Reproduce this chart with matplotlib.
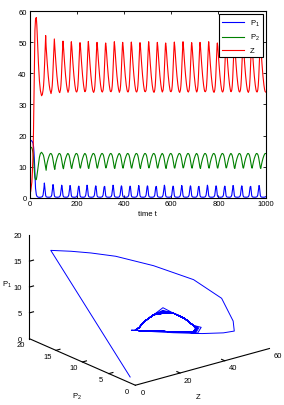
import numpy as np
import matplotlib
matplotlib.use('Agg')
import matplotlib.pyplot as plt

plt.rcParams['font.family'] = ['Liberation Sans', 'DejaVu Sans']
plt.rcParams['mathtext.fontset'] = 'custom'
plt.rcParams['mathtext.rm'] = 'Liberation Sans'
plt.rcParams['mathtext.it'] = 'Liberation Sans'

# ---- transient part (t = 0 .. 51) ----
t_tr = [0, 1.5, 5, 10, 12, 15, 17, 19, 21, 23, 25.5, 28.8, 31, 34, 38, 42, 46, 51]
z_tr = [0.5, 1.0, 2.0, 5.0, 8.0, 14.0, 22.0, 33.0, 45.0, 54.0, 57.5, 58.0, 55.5, 50.0, 43.0, 37.6, 34.5, 32.8]
p1_tr = [1.0, 18.6, 18.5, 18.2, 18.0, 17.5, 16.5, 14.5, 11.5, 7.5, 3.0, 1.0, 0.5, 0.25, 0.12, 0.1, 0.12, 0.2]
p2_tr = [1.2, 16.4, 16.3, 16.0, 15.5, 14.3, 13.0, 10.5, 8.0, 6.5, 5.8, 5.8, 6.8, 8.5, 11.0, 13.0, 14.2, 14.6]

# ---- one oscillation, offsets relative to the Z peak ----
cyc_off = [-14, -11, -9, -7, -5.5, -4, -2.5, -1, 0, 2, 4, 7, 11, 15, 18, 20]
cyc_z = [34.0, 34.6, 36.0, 38.5, 41.0, 44.0, 47.0, 49.3, 50.0, 48.6, 46.3, 43.0, 39.2, 36.3, 34.8, 34.2]
cyc_p1 = [0.3, 0.8, 2.0, 3.3, 3.8, 3.6, 2.6, 1.3, 0.7, 0.3, 0.2, 0.15, 0.12, 0.12, 0.15, 0.2]
cyc_p2 = [14.2, 13.9, 13.5, 12.8, 12.1, 11.3, 10.5, 9.9, 9.6, 9.5, 10.3, 11.4, 12.6, 13.5, 14.0, 14.2]

# per-cycle readings: Z peak times, Z peaks/troughs, P1 peaks, P2 troughs
peak_t = [68.4, 105.1, 141.8, 177.1, 213.8, 249.1, 285.8, 322.5, 359.2, 394.5, 431.1, 467.8, 504.5,
          541.2, 576.5, 613.2, 649.9, 686.6, 721.9, 758.6, 795.3, 832.0, 867.3, 904.0, 940.7, 977.3, 1013.7]
z_peak = [52.2, 51.1, 50.4, 50.2, 49.9, 50.3, 50.0, 49.8, 50.2, 50.0, 50.1, 49.9, 50.2, 50.0,
          49.8, 50.1, 50.2, 49.9, 50.0, 50.2, 49.8, 50.1, 50.0, 50.2, 49.9, 50.1, 50.0]
z_trough = [33.2, 33.5, 33.8, 33.9, 34.0, 34.1, 33.9, 34.0, 34.1, 33.9, 34.0, 34.0, 34.1, 33.9,
            34.0, 34.1, 33.9, 34.0, 34.0, 34.1, 33.9, 34.0, 34.1, 34.0, 33.9, 34.0, 34.0]
p1_peak = [4.7, 4.2, 4.0, 3.9, 3.7, 4.0, 3.8, 3.6, 4.0, 3.8, 3.7, 3.9, 3.8, 3.6,
           4.0, 3.7, 3.9, 3.8, 3.6, 4.0, 3.8, 3.7, 3.9, 3.8, 3.6, 3.9, 3.8]
p2_trough = [8.8, 9.1, 9.3, 9.4, 9.5, 9.4, 9.5, 9.6, 9.4, 9.5, 9.5, 9.4, 9.6, 9.5,
             9.4, 9.5, 9.6, 9.5, 9.4, 9.5, 9.5, 9.6, 9.4, 9.5, 9.5, 9.4, 9.5]

t = list(t_tr)
Z = list(z_tr)
P1 = list(p1_tr)
P2 = list(p2_tr)
for k, tp in enumerate(peak_t):
    for j, off in enumerate(cyc_off):
        t.append(tp + off)
        z = cyc_z[j]
        if off == 0:
            z = z_peak[k]
        if off == -14:
            z = z_trough[k]
        p1 = p1_peak[k] if off == -5.5 else cyc_p1[j]
        p2 = p2_trough[k] if off == 2 else cyc_p2[j]
        Z.append(z)
        P1.append(p1)
        P2.append(p2)

t = np.array(t)
keep = t <= 1000
t, Z, P1, P2 = t[keep], np.array(Z)[keep], np.array(P1)[keep], np.array(P2)[keep]

fs = 5.5
fig = plt.figure(figsize=(2.84, 4.06), dpi=100)

# bottom: phase portrait (drawn first, transparent, so it never hides the top axis)
ax3 = fig.add_axes([-0.083, -0.0476, 1.194, 0.635], projection='3d', proj_type='ortho')
ax3.patch.set_alpha(0)
ax3.view_init(elev=20.3, azim=-128.3)
ax3.set_box_aspect((1, 1, 0.645))
ax3.set_xlim(0, 60)
ax3.set_ylim(0, 20)
ax3.set_zlim(0, 20)
ax3.set_axis_off()

ax3.plot(Z, P2, P1, color='b', lw=0.7)

# axis lines and ticks
ax3.plot([0, 60], [0, 0], [0, 0], color='k', lw=0.8)
ax3.plot([0, 0], [0, 20], [0, 0], color='k', lw=0.8)
ax3.plot([0, 0], [20, 20], [0, 20], color='k', lw=0.8)
for v in [20, 40]:
    ax3.plot([v, v], [0, 0.6], [0, 0], color='k', lw=0.8)
for v in [5, 10, 15]:
    ax3.plot([0, 1.8], [v, v], [0, 0], color='k', lw=0.8)
    ax3.plot([0, 1.8], [20, 20], [v, v], color='k', lw=0.8)

for v in [0, 20, 40, 60]:
    ax3.text(v, -1.5, -0.7, str(v), fontsize=fs, ha='center', va='center')
for v in [0, 5, 10, 15, 20]:
    ax3.text(-3.8, v, -0.7, str(v), fontsize=fs, ha='center', va='center')
for v in [0, 5, 10, 15, 20]:
    ax3.text(-3.5, 20, v + 0.3, str(v), fontsize=fs, ha='right', va='center')
ax3.text(28, 0, -5.5, 'Z', fontsize=fs, ha='center', va='center')
ax3.text(0, 11, -7.1, 'P$_2$', fontsize=fs, ha='center', va='center')
ax3.text(0, 24.2, 8.8, 'P$_1$', fontsize=fs, ha='center', va='center', rotation=90)

# top: time series
ax = fig.add_axes([0.1039, 0.5108, 0.8317, 0.4589])
ax.plot(t, P1, color='b', lw=0.8, label='P$_1$')
ax.plot(t, P2, color=(0, 0.5, 0), lw=0.8, label='P$_2$')
ax.plot(t, Z, color='r', lw=0.8, label='Z')
ax.set_xlim(0, 1000)
ax.set_ylim(0, 60)
ax.set_xticks(range(0, 1001, 200))
ax.set_yticks(range(0, 61, 10))
ax.tick_params(direction='in', top=True, right=True, length=2.5, width=0.6, labelsize=fs, pad=2)
for s in ax.spines.values():
    s.set_linewidth(0.8)
ax.set_xlabel('time t', fontsize=fs, labelpad=2)
leg = ax.legend(loc='upper right', fontsize=fs, fancybox=False, edgecolor='k', framealpha=1,
                handlelength=2.8, borderaxespad=0.4, labelspacing=0.6)
leg.get_frame().set_linewidth(0.8)

fig.savefig('out.png', dpi=100)
